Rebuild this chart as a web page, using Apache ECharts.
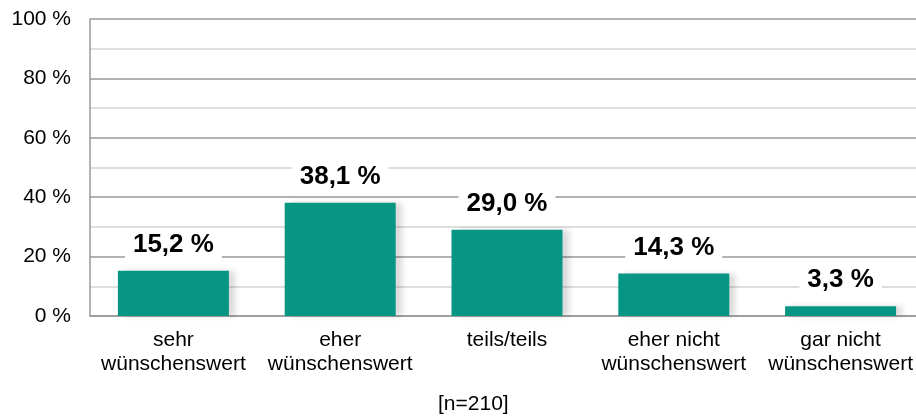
<!DOCTYPE html>
<html>
<head>
<meta charset="utf-8">
<script src="https://cdn.jsdelivr.net/npm/echarts@6/dist/echarts.min.js"></script>
<style>
html,body{margin:0;padding:0;background:#fff;}
#chart{width:916px;height:416px;}
</style>
</head>
<body>
<div id="chart"></div>
<script>
var categories = ['sehr\nwünschenswert', 'eher\nwünschenswert', 'teils/teils', 'eher nicht\nwünschenswert', 'gar nicht\nwünschenswert'];
var values = [15.2, 38.1, 29.0, 14.3, 3.3];
var sampleNote = '[n=210]';

var chart = echarts.init(document.getElementById('chart'));
var option = {
  animation: false,
  textStyle: {fontFamily: 'Liberation Sans, Arial, sans-serif'},
  graphic: [{
    type: 'text',
    left: 438,
    top: 394,
    style: {text: sampleNote, font: '21px Liberation Sans, Arial', fill: '#000'}
  }],
  grid: {left: 90, right: -8, top: 19, bottom: 100, outerBoundsMode: 'none'},
  xAxis: {
    type: 'category',
    data: categories,
    axisLine: {lineStyle: {color: '#999', width: 1.5}},
    axisTick: {show: false},
    axisLabel: {color: '#000', fontSize: 21, lineHeight: 24, margin: 12, interval: 0, hideOverlap: false}
  },
  yAxis: {
    type: 'value',
    min: 0,
    max: 100,
    interval: 20,
    axisLine: {show: true, lineStyle: {color: '#999', width: 1.5}},
    axisTick: {show: false},
    axisLabel: {color: '#000', fontSize: 21, margin: 19, formatter: '{value} %'},
    splitLine: {lineStyle: {color: '#999', width: 1.5}},
    minorTick: {show: false, splitNumber: 2},
    minorSplitLine: {show: true, lineStyle: {color: '#d4d4d4', width: 1.5}}
  },
  series: [{
    type: 'bar',
    data: values,
    barWidth: 111,
    itemStyle: {
      color: '#069683',
      shadowColor: 'rgba(0,0,0,0.15)',
      shadowBlur: 6,
      shadowOffsetX: 6,
      shadowOffsetY: 0
    },
    label: {
      show: true,
      position: 'top',
      distance: 12,
      color: '#000',
      fontSize: 26,
      fontWeight: 'bold',
      backgroundColor: '#fff',
      padding: [1, 8],
      formatter: function (p) { return p.value.toFixed(1).replace('.', ',') + ' %'; }
    }
  }]
};
chart.setOption(option);
</script>
</body>
</html>
